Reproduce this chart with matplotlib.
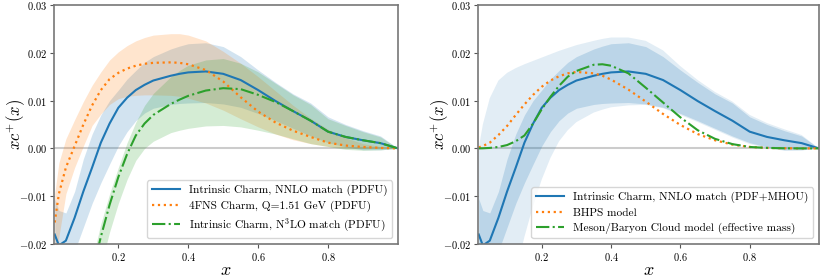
import numpy as np
import matplotlib
matplotlib.use("Agg")
import matplotlib.pyplot as plt

plt.rcParams.update({
    "font.family": "serif",
    "font.serif": ["cmr10", "DejaVu Serif"],
    "mathtext.fontset": "cm",
    "axes.formatter.use_mathtext": True,
    "axes.unicode_minus": True,
})

nan = np.nan
x = [0.018, 0.03, 0.05, 0.075, 0.1, 0.125, 0.15, 0.175, 0.2, 0.225, 0.25, 0.275, 0.3,
     0.35, 0.375, 0.4, 0.45, 0.5, 0.55, 0.6, 0.65, 0.7, 0.75, 0.8, 0.85, 0.9, 0.95, 1.0]

# Intrinsic charm, NNLO match: central, PDF band, PDF+MHOU band
ic_nnlo = [-0.0180, -0.0203, -0.0193, -0.0145, -0.0090, -0.0040, 0.0012, 0.0052, 0.0085, 0.0106,
           0.0122, 0.0133, 0.0142, 0.0152, 0.0156, 0.0159, 0.0161, 0.0156, 0.0143, 0.0122,
           0.0099, 0.0078, 0.0058, 0.0035, 0.0024, 0.0017, 0.0011, 0.0]
ic_nnlo_hi = [-0.0105, -0.0130, -0.0135, -0.0090, -0.0022, 0.0030, 0.0070, 0.0100, 0.0122, 0.0145,
              0.0163, 0.0180, 0.0192, 0.0208, 0.0214, 0.0219, 0.0221, 0.0213, 0.0192, 0.0164,
              0.0138, 0.0114, 0.0095, 0.0066, 0.0050, 0.0037, 0.0026, 0.0]
ic_nnlo_lo = [-0.0300, -0.0300, -0.0270, -0.0215, -0.0165, -0.0115, -0.0072, -0.0033, 0.0005, 0.0035,
              0.0058, 0.0074, 0.0084, 0.0092, 0.0094, 0.0095, 0.0096, 0.0093, 0.0086, 0.0073,
              0.0058, 0.0042, 0.0026, 0.0012, 0.0003, -0.0003, -0.0003, 0.0]
mhou_hi = [0.0000, 0.0050, 0.0105, 0.0142, 0.0158, 0.0168, 0.0176, 0.0183, 0.0190, 0.0197,
           0.0204, 0.0210, 0.0216, 0.0225, 0.0229, 0.0232, 0.0232, 0.0225, 0.0205, 0.0172,
           0.0143, 0.0118, 0.0098, 0.0070, 0.0053, 0.0040, 0.0028, 0.0]
mhou_lo = [-0.040, -0.040, -0.040, -0.038, -0.033, -0.026, -0.0185, -0.0120, -0.0065, -0.0020,
           0.0015, 0.0038, 0.0055, 0.0075, 0.0081, 0.0086, 0.0090, 0.0091, 0.0084, 0.0070,
           0.0055, 0.0039, 0.0023, 0.0009, 0.0001, -0.0005, -0.0004, 0.0]

# 4FNS charm at Q = 1.51 GeV
fns4 = [-0.0155, -0.0095, -0.0040, 0.0005, 0.0050, 0.0090, 0.0122, 0.0145, 0.0158, 0.0167,
        0.0173, 0.0177, 0.0179, 0.0180, 0.0179, 0.0176, 0.0164, 0.0140, 0.0107, 0.0077,
        0.0054, 0.0037, 0.0024, 0.0012, 0.0006, 0.0003, 0.0001, 0.0]
fns4_hi = [-0.0095, -0.0030, 0.0020, 0.0060, 0.0098, 0.0132, 0.0160, 0.0185, 0.0202, 0.0215,
           0.0225, 0.0232, 0.0237, 0.0240, 0.0240, 0.0237, 0.0225, 0.0203, 0.0178, 0.0150,
           0.0120, 0.0090, 0.0063, 0.0040, 0.0022, 0.0010, 0.0004, 0.0]
fns4_lo = [-0.0250, -0.0185, -0.0095, -0.0040, 0.0005, 0.0048, 0.0072, 0.0092, 0.0104, 0.0109,
           0.0111, 0.0112, 0.0112, 0.0111, 0.0109, 0.0105, 0.0095, 0.0080, 0.0062, 0.0045,
           0.0030, 0.0018, 0.0010, 0.0004, 0.0001, 0.0, 0.0, 0.0]

# Intrinsic charm, N3LO match
ic_n3lo = [nan, nan, nan, nan, nan, -0.0260, -0.0185, -0.0118, -0.0060, -0.0012,
           0.0027, 0.0052, 0.0070, 0.0093, 0.0102, 0.0110, 0.0121, 0.0126, 0.0124, 0.0112,
           0.0097, 0.0078, 0.0058, 0.0035, 0.0024, 0.0017, 0.0011, 0.0]
ic_n3lo_hi = [nan, nan, nan, nan, nan, -0.0235, -0.0158, -0.0095, -0.0040, 0.0012,
              0.0055, 0.0090, 0.0115, 0.0150, 0.0163, 0.0174, 0.0185, 0.0188, 0.0178, 0.0160,
              0.0136, 0.0112, 0.0092, 0.0062, 0.0048, 0.0035, 0.0024, 0.0]
ic_n3lo_lo = [nan, nan, nan, nan, nan, -0.0340, -0.0245, -0.0175, -0.0115, -0.0065,
              -0.0025, 0.0000, 0.0015, 0.0033, 0.0038, 0.0042, 0.0047, 0.0048, 0.0045, 0.0038,
              0.0030, 0.0020, 0.0010, 0.0004, -0.0002, -0.0004, -0.0003, 0.0]

# Models
bhps = [0.0002, 0.0005, 0.0012, 0.0028, 0.0047, 0.0070, 0.0092, 0.0112, 0.0129, 0.0142,
        0.0151, 0.0157, 0.0160, 0.0157, 0.0152, 0.0144, 0.0123, 0.0098, 0.0072, 0.0049,
        0.0030, 0.0017, 0.0008, 0.0003, 0.0001, 0.00003, 0.0, 0.0]
meson = [0.0, 0.00002, 0.0001, 0.0003, 0.0007, 0.0015, 0.0027, 0.0052, 0.0082, 0.0108,
         0.0131, 0.0150, 0.0162, 0.0175, 0.0176, 0.0173, 0.0157, 0.0127, 0.0096, 0.0065,
         0.0038, 0.0020, 0.0009, 0.0003, 0.0001, 0.00002, 0.0, 0.0]

labels_left = ["Intrinsic Charm, NNLO match (PDFU)",
               "4FNS Charm, Q=1.51 GeV (PDFU)",
               r"Intrinsic Charm, N$^3$LO match (PDFU)"]
labels_right = ["Intrinsic Charm, NNLO match (PDF+MHOU)",
                "BHPS model",
                "Meson/Baryon Cloud model (effective mass)"]

C0, C1, C2 = "#1f77b4", "#ff7f0e", "#2ca02c"

fig = plt.figure(figsize=(8.22, 2.77), dpi=100)
ax1 = fig.add_axes([54/822, 33/277, 344/822, 239/277])
ax2 = fig.add_axes([478/822, 33/277, 341/822, 239/277])

# left panel
ax1.fill_between(x, ic_nnlo_lo, ic_nnlo_hi, color=C0, alpha=0.2, lw=0)
ax1.fill_between(x, fns4_lo, fns4_hi, color=C1, alpha=0.2, lw=0)
ax1.fill_between(x, ic_n3lo_lo, ic_n3lo_hi, color=C2, alpha=0.2, lw=0)
ax1.plot(x, ic_nnlo, color=C0, lw=1.5, label=labels_left[0])
ax1.plot(x, fns4, color=C1, lw=1.6, ls=":", label=labels_left[1])
ax1.plot(x, ic_n3lo, color=C2, lw=1.5, ls="-.", label=labels_left[2])

# right panel
ax2.fill_between(x, mhou_lo, mhou_hi, color=C0, alpha=0.13, lw=0)
ax2.fill_between(x, ic_nnlo_lo, ic_nnlo_hi, color=C0, alpha=0.2, lw=0)
ax2.plot(x, ic_nnlo, color=C0, lw=1.5, label=labels_right[0])
ax2.plot(x, bhps, color=C1, lw=1.6, ls=":", label=labels_right[1])
ax2.plot(x, meson, color=C2, lw=1.5, ls="-.", label=labels_right[2])

for ax in (ax1, ax2):
    ax.axhline(0, color="k", alpha=0.2, lw=1.5, zorder=0.5)
    ax.set_xlim(0.016, 1.0)
    ax.set_ylim(-0.02, 0.03)
    ax.set_xticks([0.2, 0.4, 0.6, 0.8])
    ax.set_yticks([-0.02, -0.01, 0.0, 0.01, 0.02, 0.03])
    ax.tick_params(labelsize=7.5, length=3, width=0.8, color="#555555", pad=2)
    for s in ax.spines.values():
        s.set_color("#777777")
        s.set_linewidth(1.2)
    ax.set_xlabel(r"$x$", fontsize=13, labelpad=0)
    ax.set_ylabel(r"$xc^{+}(x)$", fontsize=12)
    ax.yaxis.set_label_coords(-0.078, 0.5)
    leg = ax.legend(loc="lower right", fontsize=8.2, frameon=True, borderaxespad=0.5,
                    handlelength=2.5, labelspacing=0.4)
    leg.get_frame().set_edgecolor("#cccccc")

fig.savefig("out.png", dpi=100)
